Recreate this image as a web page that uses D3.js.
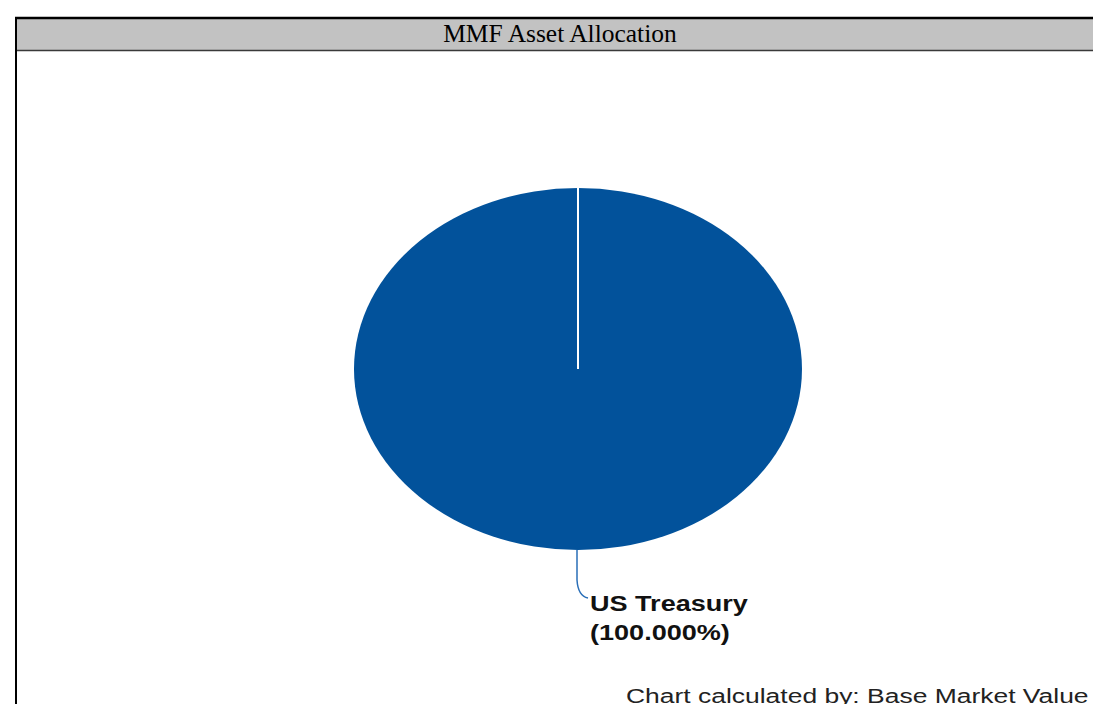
<!DOCTYPE html>
<html>
<head>
<meta charset="utf-8">
<script src="https://cdn.jsdelivr.net/npm/d3@7"></script>
<style>
  body { margin: 0; background: #fff; overflow: hidden; }
</style>
</head>
<body>
<div class="chart"></div>
<script>
// chart data
const title = "MMF Asset Allocation";
const categories = ["US Treasury"];
const values = [100.0];
const footNote = "Chart calculated by: Base Market Value";

const width = 1093,
    height = 704;

const cx = 578, cy = 369,
    rx = 224, ry = 181;

// the source picture is stretched sideways, text included
const stretch = 1.23;

const svg = d3.select(".chart").append("svg")
    .attr("width", width)
    .attr("height", height);

// frame + title bar
svg.append("rect")
    .attr("x", 15).attr("y", 18)
    .attr("width", 1100).attr("height", 32)
    .attr("fill", "#c2c2c2");
svg.append("line")
    .attr("x1", 15).attr("x2", width).attr("y1", 18).attr("y2", 18)
    .attr("stroke", "#000").attr("stroke-width", 2.5);
svg.append("line")
    .attr("x1", 15).attr("x2", width).attr("y1", 50.5).attr("y2", 50.5)
    .attr("stroke", "#3a3a3a").attr("stroke-width", 1.5);
svg.append("line")
    .attr("x1", 16).attr("x2", 16).attr("y1", 17).attr("y2", height)
    .attr("stroke", "#000").attr("stroke-width", 2);

svg.append("text")
    .attr("x", 560).attr("y", 42)
    .attr("text-anchor", "middle")
    .style("font-family", "'Liberation Serif', 'Times New Roman', serif")
    .style("font-size", "26px")
    .attr("transform", "translate(560,0) scale(0.98,1) translate(-560,0)")
    .text(title);

// pie, squashed vertically into an ellipse
const pie = d3.pie().sort(null);
const arcs = pie(values);
const arc = d3.arc().innerRadius(0).outerRadius(rx);

const g = svg.append("g")
    .attr("transform", `translate(${cx},${cy}) scale(1,${ry / rx})`);

g.selectAll("path.slice")
  .data(arcs)
  .enter().append("path")
    .attr("class", "slice")
    .attr("d", arc)
    .attr("fill", "#02529b");

// slice edges (white separators from center)
g.selectAll("line.edge")
  .data(arcs)
  .enter().append("line")
    .attr("class", "edge")
    .attr("x1", 0).attr("y1", 0)
    .attr("x2", d => rx * Math.sin(d.startAngle))
    .attr("y2", d => -rx * Math.cos(d.startAngle))
    .attr("stroke", "#fff")
    .attr("stroke-width", 2)
    .attr("vector-effect", "non-scaling-stroke");

// leader line + label, placed at the bottom of the slice
arcs.forEach((d, i) => {
  const mid = (d.startAngle + d.endAngle) / 2;
  const px = cx + rx * Math.sin(mid),
      py = cy - ry * Math.cos(mid);
  svg.append("path")
      .attr("d", `M${px - 1},${py} L${px - 1},${py + 30} Q${px},${py + 46} ${px + 10},${py + 48}`)
      .attr("fill", "none")
      .attr("stroke", "#2a6fb8")
      .attr("stroke-width", 1.5);

  const lx = px + 12;
  const lbl = svg.append("text")
      .attr("x", lx).attr("y", py + 61)
      .attr("transform", `translate(${lx},0) scale(${stretch},1) translate(${-lx},0)`)
      .style("font-family", "Arial, 'Liberation Sans', sans-serif")
      .style("font-weight", "bold")
      .style("font-size", "22px")
      .attr("fill", "#111");
  lbl.append("tspan").attr("x", lx).text(categories[i]);
  lbl.append("tspan").attr("x", lx).attr("dy", 29)
      .text("(" + d3.format(".3f")(values[i]) + "%)");
});

svg.append("text")
    .attr("x", 626).attr("y", 703)
    .attr("transform", `translate(626,0) scale(${stretch + 0.03},1) translate(-626,0)`)
    .style("font-family", "Arial, 'Liberation Sans', sans-serif")
    .style("font-size", "21px")
    .attr("fill", "#222")
    .text(footNote);
</script>
</body>
</html>
